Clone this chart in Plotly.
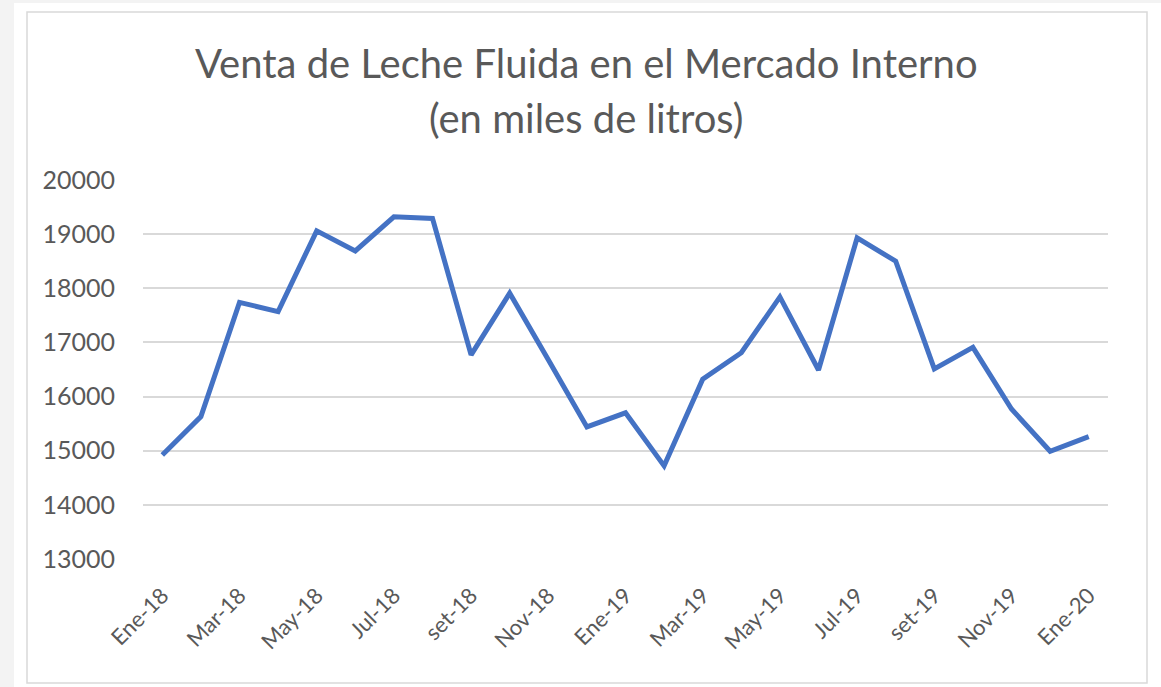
import plotly.graph_objects as go

months = ["Ene-18", "Feb-18", "Mar-18", "Abr-18", "May-18", "Jun-18", "Jul-18", "Ago-18",
          "set-18", "Oct-18", "Nov-18", "Dic-18", "Ene-19", "Feb-19", "Mar-19", "Abr-19",
          "May-19", "Jun-19", "Jul-19", "Ago-19", "set-19", "Oct-19", "Nov-19", "Dic-19", "Ene-20"]
ventas = [14920, 15630, 17740, 17570, 19060, 18690, 19320, 19290,
          16770, 17910, 16680, 15440, 15700, 14720, 16320, 16810,
          17840, 16490, 18930, 18500, 16510, 16910, 15770, 14990, 15260]
tick_labels = months[::2]
y_ticks = [13000, 14000, 15000, 16000, 17000, 18000, 19000, 20000]
title_lines = ["Venta de Leche Fluida en el Mercado Interno", "(en miles de litros)"]

W, H = 1161, 687
L, R, T, B = 143, 53, 180, 128
PW, PH = W - L - R, H - T - B
FONT = "Lato"
GRAY = "#595959"


def px(x):
    return (x - L) / PW


def py(y):
    return (H - B - y) / PH


fig = go.Figure()
fig.add_trace(go.Scatter(
    x=months, y=ventas, mode="lines",
    line=dict(color="#4472C4", width=5, shape="linear"),
    hoverinfo="x+y", showlegend=False,
))

annotations = [
    dict(text=t, x=px(586), y=py(yc), xref="paper", yref="paper",
         xanchor="center", yanchor="middle", showarrow=False,
         font=dict(family=FONT, size=40, color=GRAY))
    for t, yc in zip(title_lines, [63, 118])
]

fig.update_layout(
    width=W, height=H,
    margin=dict(l=L, r=R, t=T, b=B),
    paper_bgcolor="white", plot_bgcolor="white",
    font=dict(family=FONT, color=GRAY),
    annotations=annotations,
    xaxis=dict(
        type="category", categoryorder="array", categoryarray=months,
        tickmode="array", tickvals=tick_labels, ticktext=tick_labels,
        tickangle=-45, tickfont=dict(size=22, color=GRAY),
        showgrid=False, showline=False, zeroline=False,
        ticks="outside", ticklen=14, tickcolor="rgba(0,0,0,0)",
        range=[-0.5, len(months) - 0.5],
    ),
    yaxis=dict(
        range=[13000, 20000], tickmode="array", tickvals=y_ticks,
        ticktext=[str(v) for v in y_ticks],
        tickfont=dict(size=25, color=GRAY),
        showgrid=True, gridcolor="#d9d9d9", gridwidth=1.5,
        zeroline=False, showline=False,
        ticks="outside", ticklen=22, tickcolor="rgba(0,0,0,0)",
    ),
    shapes=[
        dict(type="rect", xref="paper", yref="paper",
             x0=px(0), x1=px(14), y0=py(H), y1=py(0),
             fillcolor="#f3f3f3", line=dict(width=0), layer="below"),
        dict(type="rect", xref="paper", yref="paper",
             x0=px(0), x1=px(W), y0=py(3), y1=py(0),
             fillcolor="#f3f3f3", line=dict(width=0), layer="below"),
        dict(type="rect", xref="paper", yref="paper",
             x0=px(27), x1=px(1147), y0=py(683), y1=py(12),
             fillcolor="rgba(0,0,0,0)", line=dict(color="#d9d9d9", width=1.5), layer="below"),
    ],
)

fig.write_html(
    "out.html",
    config={"displayModeBar": False},
    post_script="document.body.style.margin='0';document.body.style.overflow='hidden';",
)
